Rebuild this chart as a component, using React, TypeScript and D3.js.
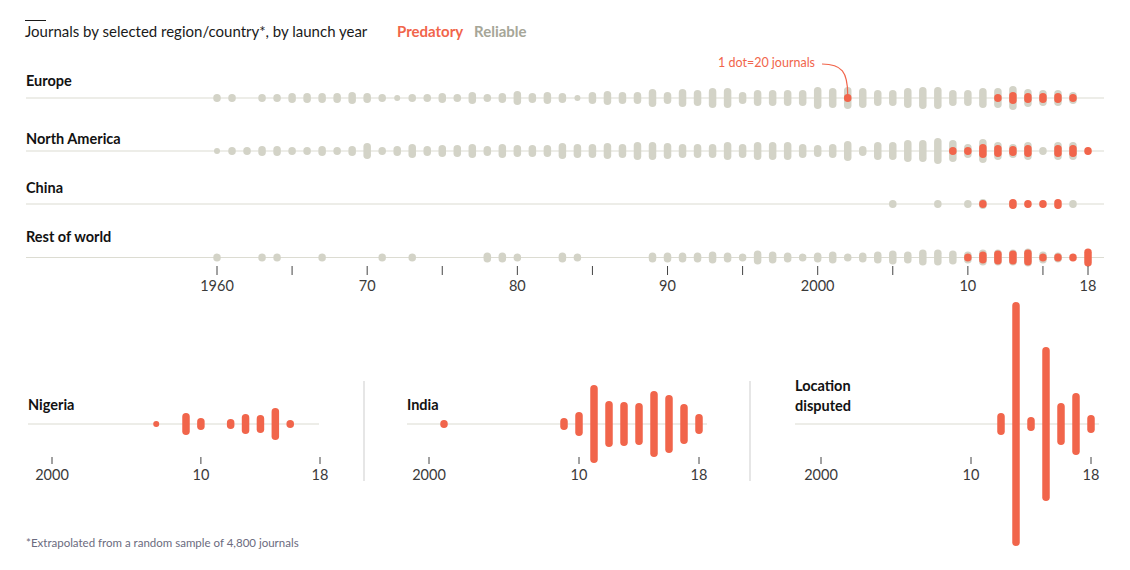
import React from 'react';
import * as d3 from 'd3';

// ---------- data (1 dot = 20 journals; values are numbers of dots) ----------
const topYears = d3.range(1960, 2019);
const rowLabels = ['Europe', 'North America', 'China', 'Rest of world'];

const europeReliable = [
  2, 2, 0, 2, 2, 3, 3, 3, 3, 4,
  3, 2, 1, 2, 2, 3, 2, 4, 2, 3,
  5, 3, 4, 3, 1, 4, 5, 4, 4, 7,
  4, 7, 6, 8, 8, 4, 6, 6, 6, 6,
  9, 8, 9, 8, 6, 6, 8, 9, 9, 6,
  6, 8, 8, 10, 7, 6, 6, 4, 0,
];
const europePredatory = [
  0, 0, 0, 0, 0, 0, 0, 0, 0, 0,
  0, 0, 0, 0, 0, 0, 0, 0, 0, 0,
  0, 0, 0, 0, 0, 0, 0, 0, 0, 0,
  0, 0, 0, 0, 0, 0, 0, 0, 0, 0,
  0, 0, 2, 0, 0, 0, 0, 0, 0, 0,
  0, 0, 2, 4, 3, 3, 3, 2, 0,
];
const naReliable = [
  1, 2, 2, 3, 3, 2, 2, 3, 2, 3,
  6, 2, 3, 5, 3, 4, 4, 5, 3, 5,
  4, 4, 4, 6, 5, 5, 6, 5, 7, 7,
  6, 5, 5, 5, 7, 5, 7, 7, 7, 5,
  4, 5, 8, 3, 7, 7, 9, 9, 11, 9,
  5, 10, 7, 5, 7, 2, 7, 7, 0,
];
const naPredatory = [
  0, 0, 0, 0, 0, 0, 0, 0, 0, 0,
  0, 0, 0, 0, 0, 0, 0, 0, 0, 0,
  0, 0, 0, 0, 0, 0, 0, 0, 0, 0,
  0, 0, 0, 0, 0, 0, 0, 0, 0, 0,
  0, 0, 0, 0, 0, 0, 0, 0, 0, 2,
  2, 5, 4, 3, 4, 0, 4, 4, 2,
];
const chinaReliable = [
  0, 0, 0, 0, 0, 0, 0, 0, 0, 0,
  0, 0, 0, 0, 0, 0, 0, 0, 0, 0,
  0, 0, 0, 0, 0, 0, 0, 0, 0, 0,
  0, 0, 0, 0, 0, 0, 0, 0, 0, 0,
  0, 0, 0, 0, 0, 2, 0, 0, 2, 0,
  2, 3, 0, 2, 0, 0, 0, 2, 0,
];
const chinaPredatory = [
  0, 0, 0, 0, 0, 0, 0, 0, 0, 0,
  0, 0, 0, 0, 0, 0, 0, 0, 0, 0,
  0, 0, 0, 0, 0, 0, 0, 0, 0, 0,
  0, 0, 0, 0, 0, 0, 0, 0, 0, 0,
  0, 0, 0, 0, 0, 0, 0, 0, 0, 0,
  0, 2, 0, 3, 2, 2, 3, 0, 0,
];
const restReliable = [
  2, 0, 0, 2, 2, 0, 0, 2, 0, 0,
  0, 2, 0, 2, 0, 0, 0, 0, 3, 3,
  2, 0, 0, 3, 2, 0, 0, 0, 0, 3,
  3, 3, 3, 4, 3, 2, 5, 4, 3, 2,
  3, 4, 2, 3, 4, 5, 4, 6, 6, 5,
  4, 6, 6, 6, 7, 4, 3, 0, 0,
];
const restPredatory = [
  0, 0, 0, 0, 0, 0, 0, 0, 0, 0,
  0, 0, 0, 0, 0, 0, 0, 0, 0, 0,
  0, 0, 0, 0, 0, 0, 0, 0, 0, 0,
  0, 0, 0, 0, 0, 0, 0, 0, 0, 0,
  0, 0, 0, 0, 0, 0, 0, 0, 0, 0,
  2, 4, 5, 5, 6, 2, 2, 2, 7,
];

const topTicks = [1960, 1965, 1970, 1975, 1980, 1985, 1990, 1995, 2000, 2005, 2010, 2015, 2018];
const topTickLabels: Record<number, string> = { 1960: '1960', 1970: '70', 1980: '80', 1990: '90', 2000: '2000', 2010: '10', 2018: '18' };

const bottomYears = d3.range(2000, 2019);
const panelLabels = [['Nigeria'], ['India'], ['Location', 'disputed']];
const nigeriaPredatory = [0, 0, 0, 0, 0, 0, 0, 1, 0, 9, 4, 0, 3, 8, 7, 14, 2, 0, 0];
const indiaPredatory = [0, 2, 0, 0, 0, 0, 0, 0, 0, 4, 10, 37, 21, 20, 19, 31, 27, 18, 8];
const disputedPredatory = [0, 0, 0, 0, 0, 0, 0, 0, 0, 0, 0, 0, 9, 120, 5, 75, 19, 29, 7];
const bottomTicks = [2000, 2010, 2018];
const bottomTickLabels: Record<number, string> = { 2000: '2000', 2010: '10', 2018: '18' };

// ---------- styles ----------
const RED = '#f1654b';
const GREY = '#d3d3c7';
const GRID = '#dcdcd2';
const FONT = 'Lato, "Open Sans", sans-serif';
const rowBaselines = [98, 151, 204, 257.5];
const rowLabelBaselines = [86, 144, 193, 242];

// dot-count -> pill height
const pillH = d3.scaleLinear().domain([1, 2]).range([6, 8]);
const pillW = (h: number) => Math.min(7.5, h);

function Pill({ cx, cy, n, color }: { cx: number; cy: number; n: number; color: string }) {
  if (!n) return null;
  const h = pillH(n);
  const w = pillW(h);
  return <rect x={cx - w / 2} y={cy - h / 2} width={w} height={h} rx={w / 2} ry={w / 2} fill={color} />;
}

export default function App() {
  const x = d3.scaleLinear().domain([1960, 2018]).range([217, 1088]);
  const rows = [
    { rel: europeReliable, pred: europePredatory },
    { rel: naReliable, pred: naPredatory },
    { rel: chinaReliable, pred: chinaPredatory },
    { rel: restReliable, pred: restPredatory },
  ];

  const panels = [
    { data: nigeriaPredatory, scale: d3.scaleLinear().domain([2000, 2018]).range([52, 320]), lineX: [28, 319], labelX: 28 },
    { data: indiaPredatory, scale: d3.scaleLinear().domain([2000, 2018]).range([429, 699]), lineX: [407, 707], labelX: 407 },
    { data: disputedPredatory, scale: d3.scaleLinear().domain([2000, 2018]).range([821, 1091]), lineX: [795, 1099], labelX: 795 },
  ];
  const baseY = 424;

  return (
    <svg width={1130} height={570} style={{ position: 'absolute', left: 0, top: 0, display: 'block', background: '#fff' }} fontFamily={FONT}>
      {/* header */}
      <line x1={25} x2={46} y1={20.5} y2={20.5} stroke="#1a1a1a" strokeWidth={1} />
      <text x={25} y={37} fontSize={15} fill="#1a1a1a">Journals by selected region/country*, by launch year</text>
      <text x={397} y={37} fontSize={15} fontWeight={700} fill={RED}>Predatory</text>
      <text x={474} y={37} fontSize={15} fontWeight={700} fill="#a6a698">Reliable</text>

      {/* top rows */}
      {rows.map((r, i) => {
        const cy = rowBaselines[i];
        return (
          <g key={i}>
            <text x={26} y={rowLabelBaselines[i]} fontSize={14.5} fontWeight={700} fill="#121212">{rowLabels[i]}</text>
            <line x1={26} x2={1104} y1={cy} y2={cy} stroke={GRID} strokeWidth={1.2} />
            {topYears.map((yr, j) => (
              <Pill key={'r' + j} cx={x(yr)} cy={cy} n={r.rel[j]} color={GREY} />
            ))}
            {topYears.map((yr, j) => (
              <Pill key={'p' + j} cx={x(yr)} cy={cy} n={r.pred[j]} color={RED} />
            ))}
          </g>
        );
      })}

      {/* annotation */}
      <text x={815} y={67} fontSize={12.5} fill={RED} textAnchor="end">1 dot=20 journals</text>
      <path d={`M 822 64 C 842 64, ${x(2002)} 72, ${x(2002)} 95`} fill="none" stroke={RED} strokeWidth={1.2} />

      {/* top axis */}
      {topTicks.map((t) => (
        <g key={t}>
          <line x1={x(t)} x2={x(t)} y1={266} y2={275} stroke="#444" strokeWidth={1} />
          {topTickLabels[t] && (
            <text x={x(t)} y={291} fontSize={14.5} textAnchor="middle" fill="#3a3a3a">{topTickLabels[t]}</text>
          )}
        </g>
      ))}

      {/* bottom panels */}
      <line x1={364} x2={364} y1={381} y2={481} stroke="#d6d6d6" strokeWidth={1.2} />
      <line x1={750} x2={750} y1={381} y2={481} stroke="#d6d6d6" strokeWidth={1.2} />
      {panels.map((p, i) => (
        <g key={i}>
          {panelLabels[i].map((l, k) => (
            <text key={k} x={p.labelX} y={(panelLabels[i].length === 1 ? 410 : 391) + k * 20} fontSize={14.5} fontWeight={700} fill="#121212">{l}</text>
          ))}
          <line x1={p.lineX[0]} x2={p.lineX[1]} y1={baseY} y2={baseY} stroke={GRID} strokeWidth={1.2} />
          {bottomTicks.map((t) => (
            <g key={t}>
              <line x1={p.scale(t)} x2={p.scale(t)} y1={457} y2={464} stroke="#444" strokeWidth={1} />
              <text x={p.scale(t)} y={480} fontSize={14.5} textAnchor="middle" fill="#3a3a3a">{bottomTickLabels[t]}</text>
            </g>
          ))}
          {bottomYears.map((yr, j) => (
            <Pill key={j} cx={p.scale(yr)} cy={baseY} n={p.data[j]} color={RED} />
          ))}
        </g>
      ))}

      {/* footnote */}
      <text x={26} y={547} fontSize={11.5} fill="#6b6b7e">*Extrapolated from a random sample of 4,800 journals</text>
    </svg>
  );
}
